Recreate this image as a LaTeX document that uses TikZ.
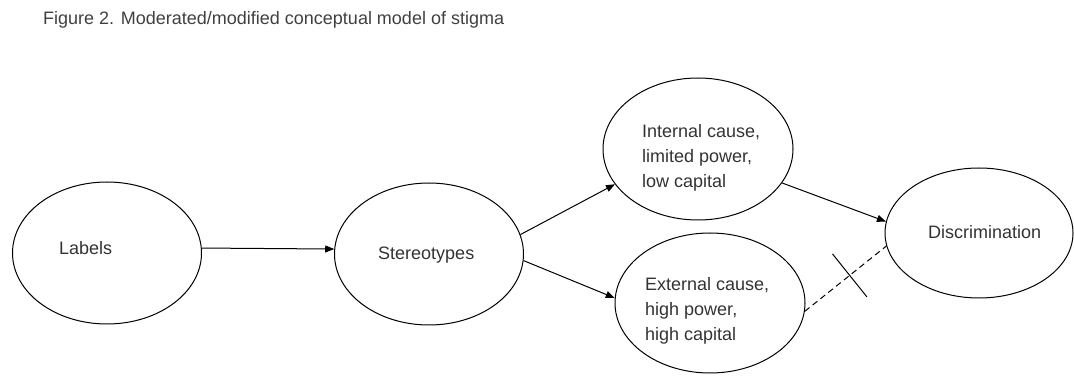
\documentclass[tikz,border=0pt]{standalone}
\usepackage{fontspec}
\setmainfont{Liberation Sans}
\usetikzlibrary{arrows.meta,shapes.geometric}

\begin{document}
\begin{tikzpicture}
  [x=1pt,y=-1pt,
   oval/.style={ellipse,draw,line width=1pt,inner sep=0pt,minimum width=189pt,minimum height=142pt},
   txt/.style={inner sep=0pt,text=black!80,font=\fontsize{18}{25}\selectfont,align=left},
   link/.style={line width=1pt,-{Triangle[length=9pt,width=7pt]}},
   cut/.style={draw,solid,line width=1pt,inner sep=0pt,minimum width=0pt,minimum height=55pt}]
  \useasboundingbox (0,0) rectangle (1074,379);
  \node[txt,anchor=base west,text=black!75] (title) at (43,25)
    {Figure 2. Moderated/modified conceptual model of stigma};

  \node[oval] (labels) at (107,253) {};
  \node[oval] (stereo) at (429,254) {};
  \node[oval,minimum width=190pt,minimum height=142pt] (internal) at (698,149) {};
  \node[oval,minimum width=190pt,minimum height=140pt] (external) at (710,303) {};
  \node[oval,minimum width=188pt,minimum height=130pt] (discr) at (979,233) {};

  \node[txt,anchor=base west] (labels-t) at (59,255) {Labels};
  \node[txt,anchor=base west] (stereo-t) at (378,260) {Stereotypes};
  \node[txt,anchor=west] (internal-t) at (642,158) {Internal cause,\\limited power,\\low capital};
  \node[txt,anchor=west] (external-t) at (645,311) {External cause,\\high power,\\high capital};
  \node[txt,anchor=base west] (discr-t) at (928,239) {Discrimination};

  \draw[link] (labels.3) -- (stereo.177);
  \foreach \from/\to in {stereo.12/internal.-157, stereo.-4/external.177, internal.-22/discr.173}
    \draw[link] (\from) -- (\to);
  \draw[line width=1pt,dash pattern=on 6pt off 4pt] (external.-5) -- (discr.-172)
    node[pos=.55,sloped,cut] (block) {};
\end{tikzpicture}
\end{document}
